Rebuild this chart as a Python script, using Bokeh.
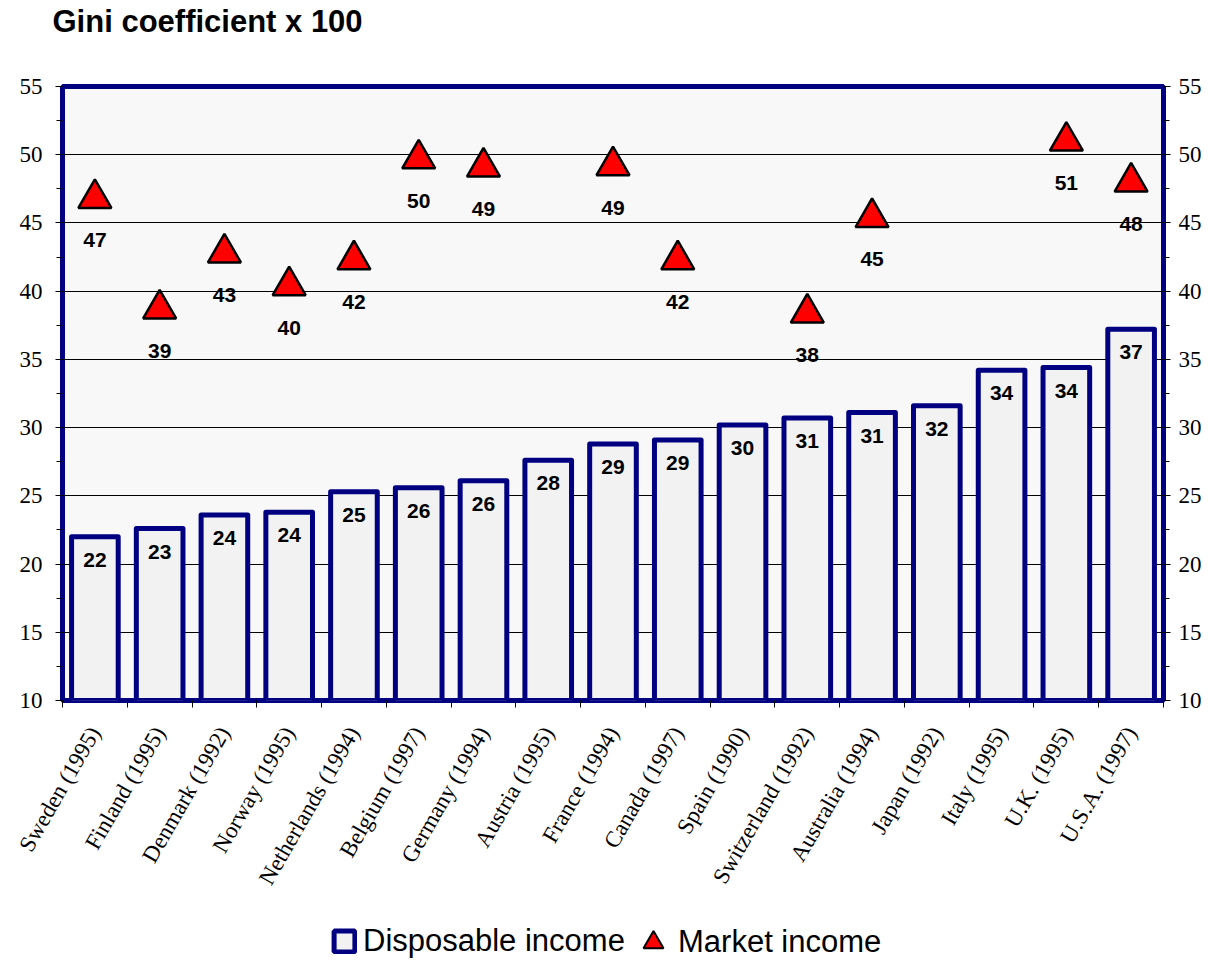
import math
from bokeh.plotting import figure
from bokeh.layouts import column
from bokeh.models import (ColumnDataSource, Range1d, LinearAxis, SingleIntervalTicker,
                          FixedTicker, Legend, LegendItem, CustomJSTickFormatter)
from bokeh.core.properties import value
from bokeh.embed import file_html
from bokeh.resources import INLINE

# ---- data ----
countries = ["Sweden (1995)", "Finland (1995)", "Denmark (1992)", "Norway (1995)",
             "Netherlands (1994)", "Belgium (1997)", "Germany (1994)", "Austria (1995)",
             "France (1994)", "Canada (1997)", "Spain (1990)", "Switzerland (1992)",
             "Australia (1994)", "Japan (1992)", "Italy (1995)", "U.K. (1995)", "U.S.A. (1997)"]
disposable = [22.0, 22.6, 23.6, 23.8, 25.3, 25.6, 26.1, 27.6, 28.8, 29.1,
              30.2, 30.7, 31.1, 31.6, 34.2, 34.4, 37.2]
market = [46.8, 38.7, 42.8, 40.4, 42.3, 49.7, 49.1, None, 49.2, 42.3,
          None, 38.4, 45.4, None, None, 51.0, 48.0]
y_ticks = [10, 15, 20, 25, 30, 35, 40, 45, 50, 55]
title_text = "Gini coefficient x 100"
series_names = ["Disposable income", "Market income"]

NAVY = "#000080"
SANS = "Liberation Sans"
SERIF = "Liberation Serif"
W = 1210
LEFT, RIGHT = 62, 47

n = len(countries)
centers = [i + 0.5 for i in range(n)]
boundaries = list(range(n + 1))

bar_src = ColumnDataSource(dict(
    x=centers, top=disposable,
    label=[str(int(round(v))) for v in disposable]))
mk_idx = [i for i, v in enumerate(market) if v is not None]
mk_src = ColumnDataSource(dict(
    x=[centers[i] for i in mk_idx], y=[market[i] for i in mk_idx],
    label=[str(int(round(market[i]))) for i in mk_idx]))


def blank_figure(height, top=0, **kw):
    f = figure(width=W, height=height, output_backend="svg", toolbar_location=None,
               x_range=Range1d(0, 1), y_range=Range1d(0, 1),
               x_axis_location=None, y_axis_location=None,
               min_border_left=LEFT, min_border_right=RIGHT,
               min_border_top=top, min_border_bottom=0, **kw)
    f.outline_line_color = None
    f.grid.visible = False
    f.background_fill_color = "white"
    f.border_fill_color = "white"
    return f


# ---- title strip ----
tf = blank_figure(44, top=38, title=title_text)
tf.title.text_font = SANS
tf.title.text_font_style = "bold"
tf.title.text_font_size = "31px"
tf.title.text_color = "black"
tf.title.align = "left"
tf.title.offset = -10
tf.title.standoff = 0

# ---- main chart ----
p = figure(width=W, height=865, output_backend="svg", toolbar_location=None,
           x_range=Range1d(0, n), y_range=Range1d(y_ticks[0], y_ticks[-1]),
           min_border_left=LEFT, min_border_right=RIGHT, min_border_top=42,
           min_border_bottom=209)

p.background_fill_color = "#F8F8F8"
p.border_fill_color = "white"
p.outline_line_color = NAVY
p.outline_line_width = 5

yticker = SingleIntervalTicker(interval=5, num_minor_ticks=2)


def style_y(ax, standoff):
    ax.ticker = yticker
    ax.major_label_text_font = SERIF
    ax.major_label_text_font_size = "23px"
    ax.major_label_text_color = "black"
    ax.major_tick_out = 7
    ax.major_tick_in = 0
    ax.minor_tick_out = 6
    ax.minor_tick_in = 0
    ax.major_tick_line_color = "black"
    ax.minor_tick_line_color = "black"
    ax.axis_line_color = None
    ax.major_label_standoff = standoff


style_y(p.yaxis[0], 13)
rax = LinearAxis()
style_y(rax, 8)
p.add_layout(rax, "right")

p.xgrid.grid_line_color = None
p.ygrid.ticker = yticker
p.ygrid.grid_line_color = "black"
p.ygrid.grid_line_width = 1

xax = p.xaxis[0]
xax.ticker = FixedTicker(ticks=centers, minor_ticks=boundaries)
xax.formatter = CustomJSTickFormatter(args=dict(labels=countries),
                                      code="return labels[Math.round(tick - 0.5)];")
xax.major_tick_line_color = None
xax.major_tick_out = 0
xax.major_tick_in = 0
xax.minor_tick_line_color = "black"
xax.minor_tick_out = 7
xax.minor_tick_in = 0
xax.axis_line_color = None
xax.major_label_orientation = math.pi / 3
xax.major_label_text_font = SERIF
xax.major_label_text_font_size = "23px"
xax.major_label_text_color = "black"
xax.major_label_standoff = 21

BAR_FILL = "#F2F2F2"
p.vbar(x="x", top="top", bottom=y_ticks[0], width=0.72, source=bar_src,
       fill_color=BAR_FILL, line_color=NAVY, line_width=5, line_join="round")
p.text(x="x", y="top", text="label", source=bar_src, y_offset=23,
       text_font=value(SANS), text_font_style="bold", text_font_size="21px",
       text_align="center", text_baseline="middle", text_color="black")

p.scatter(x="x", y="y", source=mk_src, marker="triangle", size=33,
          fill_color="#FF0000", line_color="black", line_width=2.5)
p.text(x="x", y="y", text="label", source=mk_src, y_offset=42,
       text_font=value(SANS), text_font_style="bold", text_font_size="21px",
       text_align="center", text_baseline="middle", text_color="black")

# ---- legend strip ----
lg = blank_figure(52)
nan_src = ColumnDataSource(dict(x=[float("nan")], y=[float("nan")]))
sq_proxy = lg.vbar(x="x", top="y", bottom=0, width=0.1, source=nan_src,
                   fill_color=BAR_FILL, line_color=NAVY, line_width=5)
tri_proxy = lg.scatter(x="x", y="y", source=nan_src, marker="triangle", size=20,
                       fill_color="#FF0000", line_color="black", line_width=2)

common = dict(orientation="horizontal", label_text_font=SANS, label_text_font_size="31px",
              label_text_color="black", border_line_color=None, background_fill_alpha=0,
              padding=0, margin=0)
leg1 = Legend(items=[LegendItem(label=series_names[0], renderers=[sq_proxy])],
              location=(269, 2), glyph_width=26, glyph_height=26, label_standoff=6, **common)
leg2 = Legend(items=[LegendItem(label=series_names[1], renderers=[tri_proxy])],
              location=(566, -6), glyph_width=50, glyph_height=50, label_standoff=0, **common)
lg.add_layout(leg1)
lg.add_layout(leg2)

layout = column(tf, p, lg, spacing=0)
open("out.html", "w").write(file_html(layout, INLINE))
